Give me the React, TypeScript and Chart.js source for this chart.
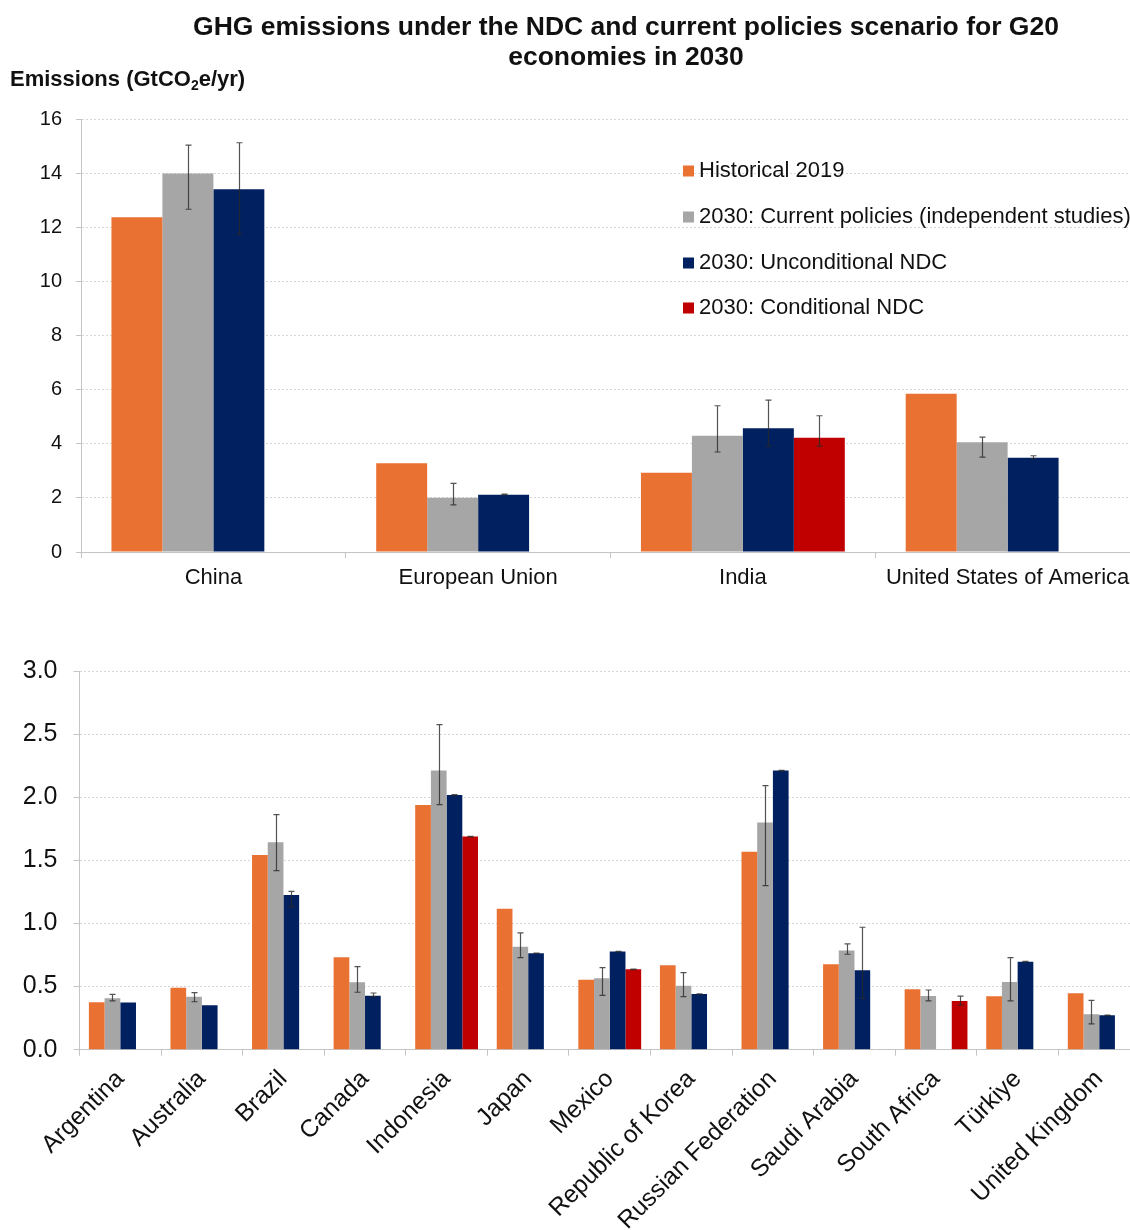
import React, { useEffect, useRef } from 'react';
import { Chart, registerables } from 'chart.js';

Chart.register(...registerables);

const FONT = "'Liberation Sans', Arial, Helvetica, sans-serif";
const TEXT = '#111111';
const AXIS = '#c4c4c4';
const GRID = '#d6d6d6';

const COLORS = ['#E97132', '#A6A6A6', '#002060', '#C00000'];
const seriesLabels = [
  'Historical 2019',
  '2030: Current policies (independent studies)',
  '2030: Unconditional NDC',
  '2030: Conditional NDC',
];

const titleLines = [
  'GHG emissions under the NDC and current policies scenario for G20',
  'economies in 2030',
];

// ---- Top panel ----
const topCategories = ['China', 'European Union', 'India', 'United States of America'];
const topHist = [12.38, 3.28, 2.93, 5.85];
const topCP = [14.0, 2.01, 4.3, 4.06];
const topCPLow = [12.68, 1.74, 3.7, 3.51];
const topCPHigh = [15.05, 2.54, 5.41, 4.25];
const topUnc = [13.42, 2.12, 4.58, 3.49];
const topUncLow = [11.76, 2.11, 3.92, 3.45];
const topUncHigh = [15.14, 2.14, 5.62, 3.56];
const topCond = [null, null, 4.23, null];
const topCondLow = [null, null, 3.92, null];
const topCondHigh = [null, null, 5.04, null];
const topTicks = [0, 2, 4, 6, 8, 10, 12, 14, 16];

// ---- Bottom panel ----
const botCategories = [
  'Argentina', 'Australia', 'Brazil', 'Canada', 'Indonesia', 'Japan', 'Mexico',
  'Republic of Korea', 'Russian Federation', 'Saudi Arabia', 'South Africa', 'Türkiye', 'United Kingdom',
];
const botHist = [0.376, 0.491, 1.543, 0.732, 1.939, 1.117, 0.555, 0.669, 1.569, 0.677, 0.478, 0.423, 0.447];
const botCP = [0.407, 0.42, 1.643, 0.534, 2.211, 0.816, 0.566, 0.507, 1.799, 0.785, 0.425, 0.536, 0.28];
const botCPLow = [0.386, 0.38, 1.418, 0.455, 1.942, 0.729, 0.431, 0.42, 1.3, 0.756, 0.386, 0.386, 0.204];
const botCPHigh = [0.439, 0.452, 1.862, 0.658, 2.575, 0.925, 0.65, 0.61, 2.092, 0.838, 0.473, 0.729, 0.391];
const botUnc = [0.373, 0.352, 1.226, 0.428, 2.018, 0.764, 0.777, 0.441, 2.211, 0.629, null, 0.697, 0.272];
const botUncLow = [null, null, 1.131, 0.42, 2.015, 0.762, 0.775, 0.44, 2.209, 0.407, null, 0.695, 0.27];
const botUncHigh = [null, null, 1.255, 0.449, 2.021, 0.766, 0.779, 0.443, 2.213, 0.97, null, 0.699, 0.274];
const botCond = [null, null, null, null, 1.688, null, 0.637, null, null, null, 0.386, null, null];
const botCondLow = [null, null, null, null, 1.686, null, 0.635, null, null, null, 0.352, null, null];
const botCondHigh = [null, null, null, null, 1.69, null, 0.639, null, null, null, 0.425, null, null];
const botTicks = [0, 0.5, 1, 1.5, 2, 2.5, 3];

type Arr = (number | null)[];

function errorBarPlugin(lows: (Arr | null)[], highs: (Arr | null)[]) {
  return {
    id: 'errorBars',
    afterDatasetsDraw(chart: any) {
      const ctx = chart.ctx;
      const y = chart.scales.y;
      ctx.save();
      ctx.strokeStyle = 'rgba(40,40,40,0.8)';
      ctx.lineWidth = 1.2;
      lows.forEach((lowArr, di) => {
        const highArr = highs[di];
        if (!lowArr || !highArr) return;
        const meta = chart.getDatasetMeta(di);
        lowArr.forEach((lo, i) => {
          const hi = highArr[i];
          if (lo == null || hi == null) return;
          const bar = meta.data[i];
          if (!bar || !isFinite(bar.x)) return;
          const x = Math.round(bar.x) + 0.5;
          const y1 = y.getPixelForValue(lo);
          const y2 = y.getPixelForValue(hi);
          ctx.beginPath();
          ctx.moveTo(x, y1);
          ctx.lineTo(x, y2);
          ctx.moveTo(x - 3, y1);
          ctx.lineTo(x + 3, y1);
          ctx.moveTo(x - 3, y2);
          ctx.lineTo(x + 3, y2);
          ctx.stroke();
        });
      });
      ctx.restore();
    },
  };
}

const topDecorPlugin = {
  id: 'topDecor',
  afterDraw(chart: any) {
    const ctx = chart.ctx;
    ctx.save();
    // Title
    ctx.fillStyle = TEXT;
    ctx.textAlign = 'center';
    ctx.textBaseline = 'middle';
    ctx.font = `bold 26.5px ${FONT}`;
    ctx.fillText(titleLines[0], 626, 28);
    ctx.fillText(titleLines[1], 626, 58);
    // Y axis title with subscript
    ctx.textAlign = 'left';
    let x = 10;
    const yy = 80;
    ctx.font = `bold 22px ${FONT}`;
    const p1 = 'Emissions (GtCO';
    ctx.fillText(p1, x, yy);
    x += ctx.measureText(p1).width;
    ctx.font = `bold 14px ${FONT}`;
    ctx.fillText('2', x, yy + 6);
    x += ctx.measureText('2').width;
    ctx.font = `bold 22px ${FONT}`;
    ctx.fillText('e/yr)', x, yy);
    // Legend
    const rows = [171, 217, 263, 308];
    ctx.font = `22px ${FONT}`;
    seriesLabels.forEach((lab, i) => {
      ctx.fillStyle = COLORS[i];
      ctx.fillRect(683, rows[i] - 5.5, 11, 11);
      ctx.fillStyle = TEXT;
      ctx.fillText(lab, 699, rows[i]);
    });
    ctx.restore();
  },
};

function makeDatasets(h: Arr, cp: Arr, u: Arr, c: Arr) {
  return [h, cp, u, c].map((d, i) => ({
    label: seriesLabels[i],
    data: d,
    backgroundColor: COLORS[i],
    borderWidth: 0,
    categoryPercentage: 0.77,
    barPercentage: 1.0,
  }));
}

export default function App() {
  const topRef = useRef<HTMLCanvasElement>(null);
  const botRef = useRef<HTMLCanvasElement>(null);

  useEffect(() => {
    document.body.style.margin = '0';
    const c1 = new Chart(topRef.current as HTMLCanvasElement, {
      type: 'bar',
      data: {
        labels: topCategories,
        datasets: makeDatasets(topHist, topCP, topUnc, topCond) as any,
      },
      options: {
        responsive: false,
        animation: false,
        layout: { padding: { top: 119.5, left: 0, right: 0, bottom: 0 } },
        plugins: { legend: { display: false }, tooltip: { enabled: false } },
        scales: {
          x: {
            grid: { display: true, drawOnChartArea: false, drawTicks: true, tickLength: 6, tickColor: AXIS, offset: true },
            border: { color: AXIS },
            ticks: { font: { family: FONT, size: 22 }, color: TEXT, padding: 7, maxRotation: 0, autoSkip: false },
            afterFit: (s: any) => { s.height = 48; },
          },
          y: {
            min: topTicks[0],
            max: topTicks[topTicks.length - 1],
            afterBuildTicks: (s: any) => { s.ticks = topTicks.map((v) => ({ value: v })); },
            ticks: { font: { family: FONT, size: 20 }, color: TEXT, padding: 14 },
            grid: { color: GRID, tickColor: AXIS, tickLength: 5, tickBorderDash: [] },
            border: { color: AXIS, dash: [2, 2] },
            afterFit: (s: any) => { s.width = 81; },
          },
        },
      } as any,
      plugins: [
        errorBarPlugin([null, topCPLow, topUncLow, topCondLow], [null, topCPHigh, topUncHigh, topCondHigh]),
        topDecorPlugin,
      ],
    });

    const c2 = new Chart(botRef.current as HTMLCanvasElement, {
      type: 'bar',
      data: {
        labels: botCategories,
        datasets: makeDatasets(botHist, botCP, botUnc, botCond) as any,
      },
      options: {
        responsive: false,
        animation: false,
        layout: { padding: { top: 71, left: 0, right: 0, bottom: 0 } },
        plugins: { legend: { display: false }, tooltip: { enabled: false } },
        scales: {
          x: {
            grid: { display: true, drawOnChartArea: false, drawTicks: true, tickLength: 6, tickColor: AXIS, offset: true },
            border: { color: AXIS },
            ticks: { font: { family: FONT, size: 24.5 }, color: TEXT, padding: 9, minRotation: 45, maxRotation: 45, autoSkip: false },
            afterFit: (s: any) => { s.height = 180.3; },
          },
          y: {
            min: botTicks[0],
            max: botTicks[botTicks.length - 1],
            afterBuildTicks: (s: any) => { s.ticks = botTicks.map((v) => ({ value: v })); },
            ticks: { font: { family: FONT, size: 25 }, color: TEXT, padding: 16, callback: (v: any) => Number(v).toFixed(1) },
            grid: { color: GRID, tickColor: AXIS, tickLength: 6, tickBorderDash: [] },
            border: { color: AXIS, dash: [2, 2] },
            afterFit: (s: any) => { s.width = 79.5; },
          },
        },
      } as any,
      plugins: [
        errorBarPlugin([null, botCPLow, botUncLow, botCondLow], [null, botCPHigh, botUncHigh, botCondHigh]),
      ],
    });

    return () => {
      c1.destroy();
      c2.destroy();
    };
  }, []);

  return (
    <div style={{ position: 'relative', width: 1130, height: 1230, overflow: 'hidden', background: '#ffffff' }}>
      <canvas ref={topRef} width={1140} height={600} style={{ position: 'absolute', left: 0, top: 0, display: 'block' }} />
      <canvas ref={botRef} width={1140} height={630} style={{ position: 'absolute', left: 0, top: 600, display: 'block' }} />
    </div>
  );
}
